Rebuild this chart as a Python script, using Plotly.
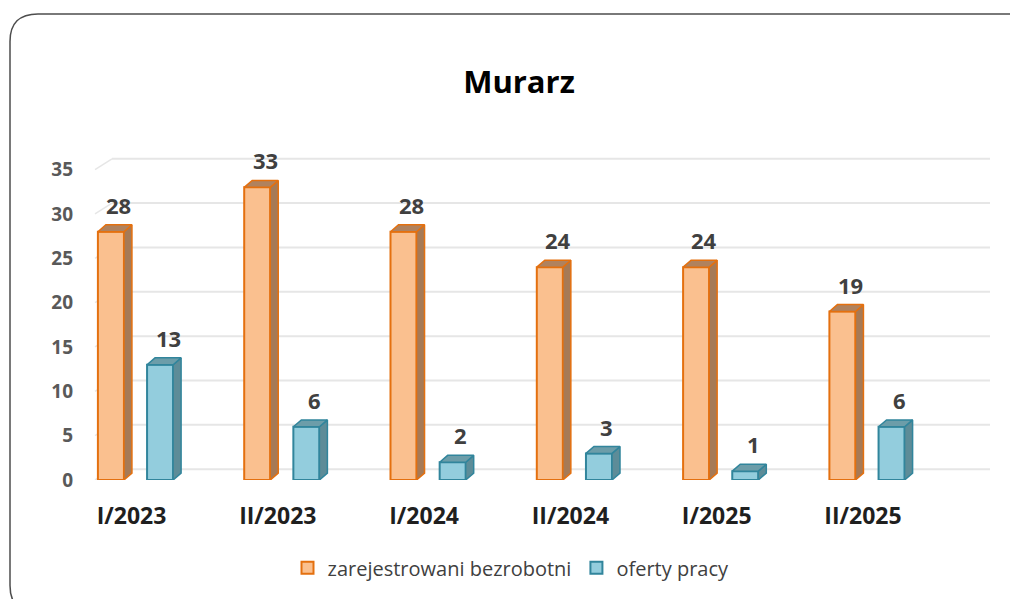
import plotly.graph_objects as go

# ---------------- data ----------------
categories = ["I/2023", "II/2023", "I/2024", "II/2024", "I/2025", "II/2025"]
unemployed = [28, 33, 28, 24, 24, 19]
offers = [13, 6, 2, 3, 1, 6]
series_names = ["zarejestrowani bezrobotni", "oferty pracy"]
y_ticks = [0, 5, 10, 15, 20, 25, 30, 35]
title_text = "Murarz"

# ---------------- geometry helpers (screen px, page has 8px body margin) ----------------
M = 8
W, H = 1018 - M, 599 - M
L, R, T, B = 80 - M, 990 - M, 144 - M, 485 - M      # plot area in figure px
px_x = 146.3                                         # px per category
x0_px = 135.5 - M                                    # px of category 0 centre
px_y = 9.0                                           # px per unit
x_range = [(L - x0_px) / px_x, (R - x0_px) / px_x]
y_range = [0, (B - T) / px_y]

off = 0.168          # group offset
bw = 0.178           # bar width
dx = 8 / px_x        # 3d depth in x
dy = 7 / px_y        # 3d depth in y
back_dy = 11 / px_y


def to_paper(px, py):
    return (px - L) / (R - L), (B - py) / (B - T)


def xpx(px):
    return x_range[0] + (px - L) / px_x


styles = [
    dict(front="#FAC08F", border="#E4700F", side="#A67A56", top="#B0825E"),
    dict(front="#93CDDD", border="#31859C", side="#5D8C98", top="#6C9DA9"),
]

fig = go.Figure()

xs_all = []
for k, (vals, st, name) in enumerate(zip([unemployed, offers], styles, series_names)):
    xs = [i + (-off if k == 0 else off) for i in range(len(categories))]
    xs_all.append(xs)
    fig.add_trace(go.Bar(
        x=xs, y=vals, width=bw, name=name,
        marker=dict(color=st["front"], line=dict(color=st["border"], width=2)),
        hoverinfo="skip",
    ))

for k, (vals, st) in enumerate(zip([unemployed, offers], styles)):
    xs = xs_all[k]
    sx, sy, tx, ty = [], [], [], []
    for xc, v in zip(xs, vals):
        xl, xr = xc - bw / 2, xc + bw / 2
        sx += [xr, xr + dx, xr + dx, xr, xr, None]
        sy += [0, dy, v + dy, v, 0, None]
        tx += [xl, xl + dx, xr + dx, xr, xl, None]
        ty += [v, v + dy, v + dy, v, v, None]
    fig.add_trace(go.Scatter(x=sx, y=sy, mode="lines", fill="toself",
                             fillcolor=st["side"], line=dict(color=st["border"], width=1.5),
                             showlegend=False, hoverinfo="skip"))
    fig.add_trace(go.Scatter(x=tx, y=ty, mode="lines", fill="toself",
                             fillcolor=st["top"], line=dict(color=st["border"], width=1.5),
                             showlegend=False, hoverinfo="skip"))
    for xc, v in zip(xs, vals):
        fig.add_annotation(x=xc + dx, y=v + dy, text=str(v), showarrow=False,
                           xref="x", yref="y", yanchor="middle", yshift=20,
                           font=dict(family="Open Sans", size=22, color="#404040", weight="bold"))

# gridlines on back wall + little wall stubs
for v in y_ticks:
    fig.add_shape(type="line", xref="x", yref="y", layer="below",
                  x0=xpx(112 - M), x1=x_range[1],
                  y0=v + back_dy, y1=v + back_dy,
                  line=dict(color="#E6E6E6", width=2))
    fig.add_shape(type="line", xref="x", yref="y", layer="below",
                  x0=xpx(95 - M), x1=xpx(112 - M),
                  y0=v, y1=v + back_dy,
                  line=dict(color="#E6E6E6", width=1.5))

# rounded outer border
bx0, by0, bx1, by1, r = 10 - M, 12 - M, 1032, 612, 28
pts = [
    ("M", bx0, by0 + r), ("Q", bx0, by0, bx0 + r, by0), ("L", bx1 - r, by0),
    ("Q", bx1, by0, bx1, by0 + r), ("L", bx1, by1 - r), ("Q", bx1, by1, bx1 - r, by1),
    ("L", bx0 + r, by1), ("Q", bx0, by1, bx0, by1 - r), ("Z",),
]
path = ""
for p in pts:
    s = p[0]
    coords = p[1:]
    for j in range(0, len(coords), 2):
        a, b = to_paper(coords[j], coords[j + 1])
        s += f" {a:.5f},{b:.5f}"
    path += s + " "
fig.add_shape(type="path", path=path.strip(), xref="paper", yref="paper",
              line=dict(color="#4D4D4D", width=1.5), layer="above")

fig.update_layout(
    width=W, height=H,
    margin=dict(l=L, r=W - R, t=T, b=H - B),
    paper_bgcolor="white", plot_bgcolor="white",
    barmode="overlay",
    title=dict(text=title_text, x=(519 - M) / W, xanchor="center",
               y=1 - (82 - M) / H, yanchor="middle",
               font=dict(family="Open Sans", size=31, color="#000000", weight="bold")),
    xaxis=dict(range=x_range, tickvals=list(range(len(categories))), ticktext=categories,
               showgrid=False, zeroline=False, showline=False, ticks="",
               ticklabelshift=-4, ticklabelstandoff=20,
               tickfont=dict(family="Open Sans", size=23, color="#1F1F1F", weight="bold")),
    yaxis=dict(range=y_range, tickvals=y_ticks, showgrid=False, zeroline=False,
               showline=False, ticks="", ticklabelstandoff=6,
               tickfont=dict(family="Open Sans", size=19, color="#595959", weight="bold")),
    legend=dict(orientation="h", x=(511 - M - L) / (R - L), xanchor="center",
                y=(B - (574 - M)) / (B - T), yanchor="middle",
                font=dict(family="Open Sans", size=20, color="#404040"),
                itemwidth=30, tracegroupgap=0),
    showlegend=True,
)

fig.write_html("out.html")
